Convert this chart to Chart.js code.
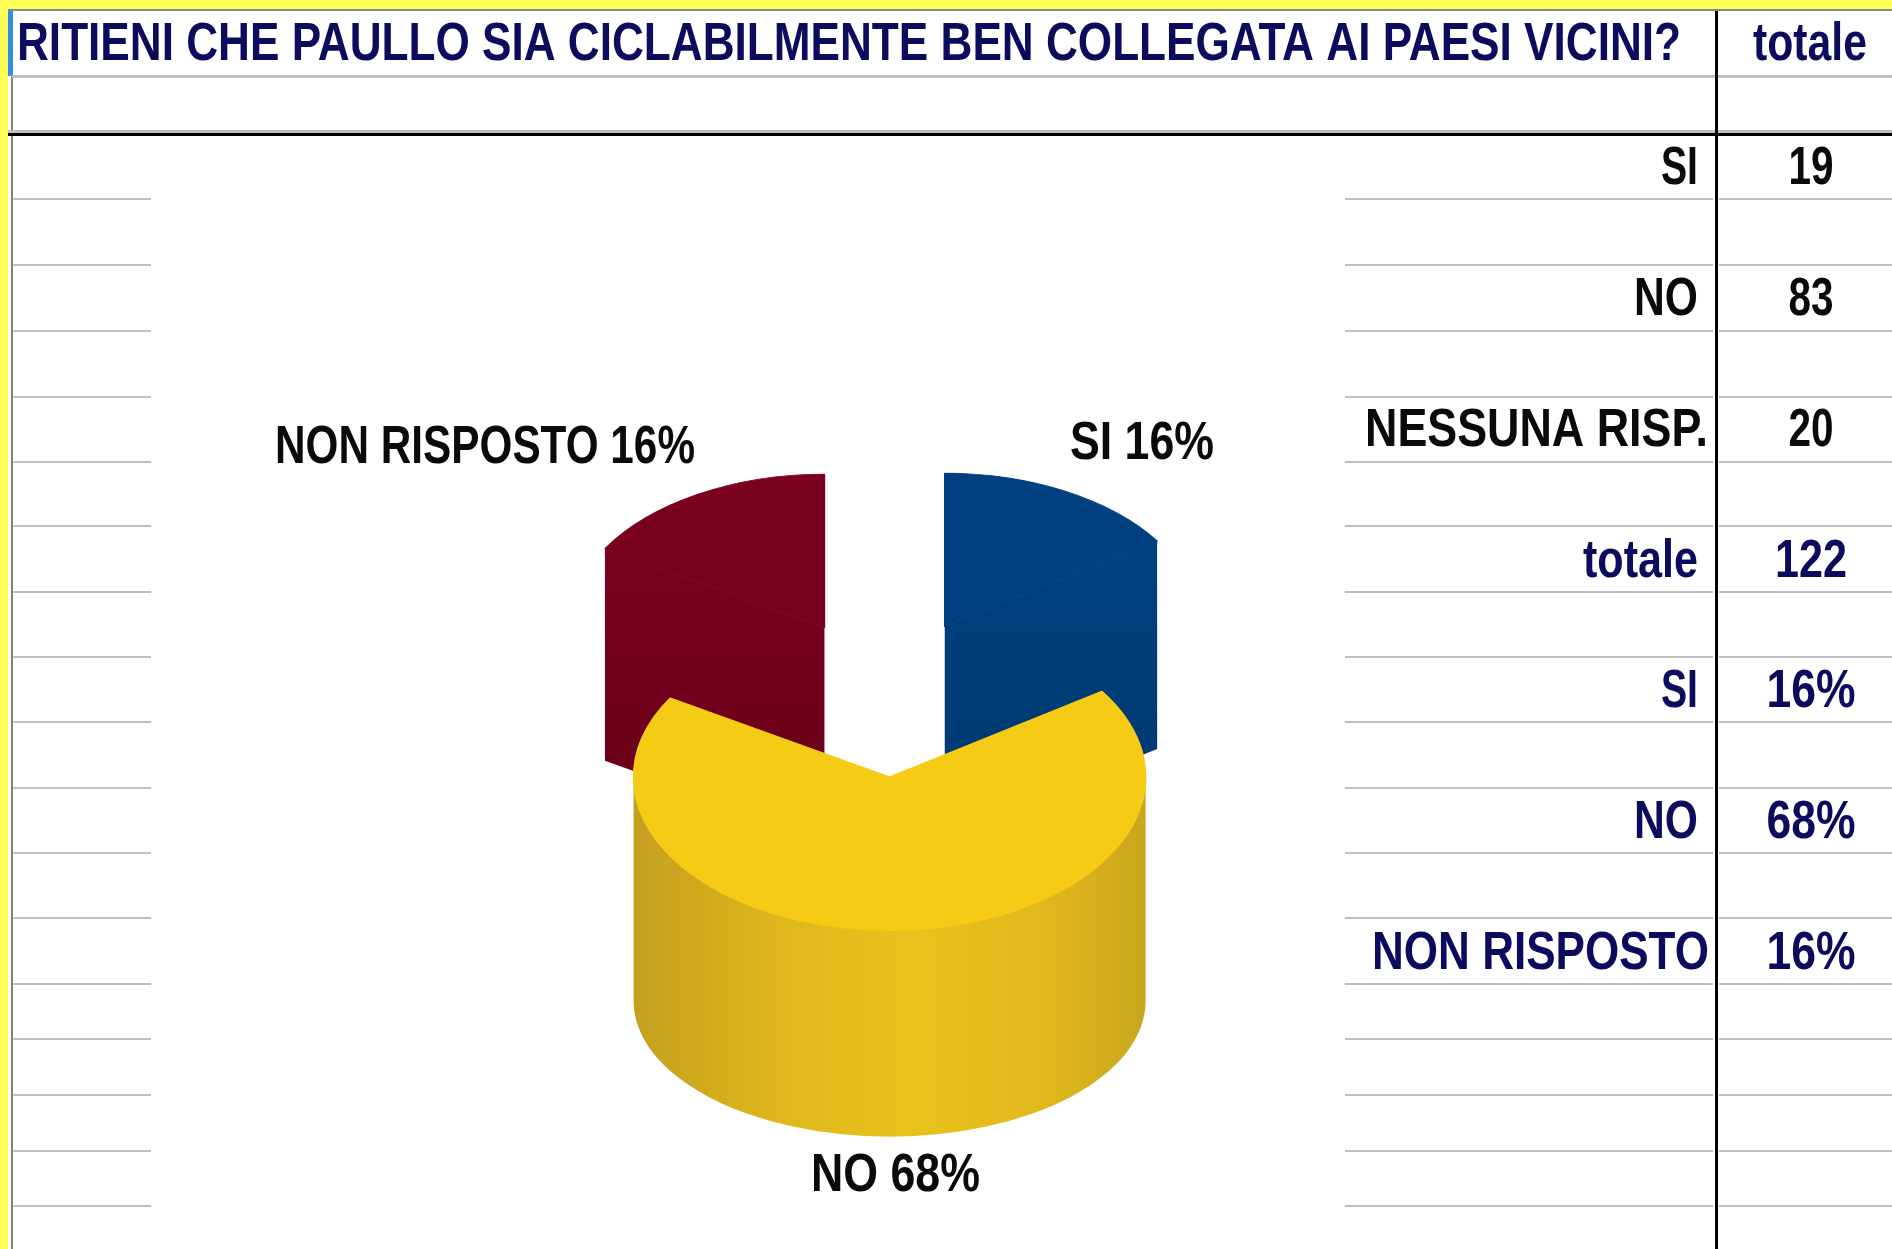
<!DOCTYPE html>
<html>
<head>
<meta charset="utf-8">
<title>Paullo</title>
<script src="https://cdn.jsdelivr.net/npm/chart.js@4/dist/chart.umd.min.js"></script>
<style>
    html, body { margin: 0; padding: 0; background: #fff; overflow: hidden; }
    canvas { display: block; }
</style>
</head>
<body>
<canvas id="myPieChart" width="1892" height="1249"></canvas>
<script>
// dati del grafico
const questionTitle = 'RITIENI CHE PAULLO SIA CICLABILMENTE BEN COLLEGATA AI PAESI VICINI?';
const totalHeader = 'totale';
const categories = ['SI', 'NO', 'NON RISPOSTO'];
const answers = [19, 83, 20];
const percentages = ['16%', '68%', '16%'];
const countLabels = ['SI', 'NO', 'NESSUNA RISP.', 'totale'];
const countValues = ['19', '83', '20', '122'];

const NAVY = '#0c0c5e';
const INK = '#0a0a0a';
const GRID = '#c0c0c0';
const FONT = 'bold 53px "Liberation Sans", Arial, sans-serif';
const sliceColors = ['#004080', '#f5cb16', '#7a0020'];

// righe grigie del foglio
const rowLines = [199, 265, 331, 397, 462, 526, 592, 657, 722, 788, 853, 918, 984, 1039, 1095, 1151, 1206];
// posizione e larghezza dei testi condensati: [x destra, larghezza]
const countLabelBox = [[1698, 37], [1698, 64], [1708, 343], [1698, 115]];
const countValueBox = [45, 45, 45, 72];
const percentLabelBox = [[1698, 37], [1698, 64], [1709, 337]];
const rowBaseline = [184, 315, 446, 577, 707, 838, 969];
const sliceLabelBox = [[1070, 459, 144], [811, 1191, 169], [275, 463, 420]];

function putText(ctx, text, x, y, width, color, align) {
    ctx.font = FONT;
    ctx.fillStyle = color;
    ctx.textAlign = align || 'left';
    ctx.textBaseline = 'alphabetic';
    ctx.fillText(text, x, y, width);
}

// sfondo tipo foglio excel
const sheetPlugin = {
    id: 'sheet',
    beforeDraw(chart) {
        const ctx = chart.ctx;
        const W = chart.width, H = chart.height;
        ctx.save();
        ctx.fillStyle = '#fff';
        ctx.fillRect(0, 0, W, H);
        // bordo giallo
        ctx.fillStyle = '#ffff58';
        ctx.fillRect(0, 0, W, 9);
        ctx.fillRect(0, 0, 8, H);
        ctx.fillStyle = '#8a8a80';
        ctx.fillRect(8, 9, W - 8, 2);
        ctx.fillStyle = '#808080';
        ctx.fillRect(11, 76, 2, H - 76);
        ctx.fillStyle = '#2f8fe0';
        ctx.fillRect(8, 11, 5, 65);

        ctx.fillStyle = GRID;
        ctx.fillRect(12, 75, W - 12, 3);
        ctx.fillRect(8, 130, W - 8, 3);
        ctx.fillStyle = '#000';
        ctx.fillRect(8, 133, W - 8, 3);
        ctx.fillStyle = GRID;
        rowLines.forEach(y => {
            ctx.fillRect(13, y - 1, 138, 2);
            ctx.fillRect(1345, y - 1, 368, 2);
            ctx.fillRect(1719, y - 1, W - 1719, 2);
        });
        ctx.fillStyle = '#000';
        ctx.fillRect(1715, 11, 3, H - 11);

        // intestazione e tabella
        putText(ctx, questionTitle, 17, 60, 1664, NAVY);
        putText(ctx, totalHeader, 1753, 60, 114, NAVY);
        countLabels.forEach((label, i) => {
            const color = i === 3 ? NAVY : INK;
            const box = countLabelBox[i];
            putText(ctx, label, box[0], rowBaseline[i], box[1], color, 'right');
            putText(ctx, countValues[i], 1811, rowBaseline[i], countValueBox[i], color, 'center');
        });
        categories.forEach((label, i) => {
            const box = percentLabelBox[i];
            putText(ctx, label, box[0], rowBaseline[i + 4], box[1], NAVY, 'right');
            putText(ctx, percentages[i], 1811, rowBaseline[i + 4], 89, NAVY, 'center');
        });
        ctx.restore();
    }
};

// torta 3D: schiaccia gli archi di Chart.js, li stacca dal centro e aggiunge le pareti
const pie3dPlugin = {
    id: 'pie3d',
    beforeDatasetsDraw(chart, args, opts) {
        const ctx = chart.ctx;
        const arcs = chart.getDatasetMeta(0).data;
        const items = arcs.map((el, i) => {
            const mid = (el.startAngle + el.endAngle) / 2;
            const off = opts.explode[i];
            return {
                el: el, i: i,
                x: el.x + Math.cos(mid) * off,
                y: el.y + Math.sin(mid) * off * opts.squash
            };
        });
        // prima le fette dietro
        items.sort((a, b) => a.y - b.y);

        items.forEach(it => {
            const el = it.el, R = el.outerRadius;
            const depth = opts.depth[it.i];
            const Ry = R * opts.squash, Rb = R * opts.bottomSquash[it.i];
            ctx.save();
            // le pareti sfumano dal colore della fetta verso il basso
            const shade = ctx.createLinearGradient(0, it.y - Ry * 0.4, 0, it.y + depth);
            shade.addColorStop(0, el.options.backgroundColor);
            shade.addColorStop(1, opts.wall[it.i]);
            ctx.fillStyle = shade;
            // facce di taglio
            [el.startAngle, el.endAngle].forEach(a => {
                const tx = it.x + Math.cos(a) * R;
                ctx.beginPath();
                ctx.moveTo(it.x, it.y);
                ctx.lineTo(tx, it.y + Math.sin(a) * Ry);
                ctx.lineTo(tx, it.y + depth + Math.sin(a) * Rb);
                ctx.lineTo(it.x, it.y + depth);
                ctx.closePath();
                ctx.fill();
            });
            // parete esterna visibile solo per la fetta davanti
            if (el.endAngle > Math.PI && el.startAngle < 0) {
                const g = ctx.createLinearGradient(it.x - R, 0, it.x + R, 0);
                opts.frontStops.forEach(s => g.addColorStop(s[0], s[1]));
                ctx.fillStyle = g;
                ctx.beginPath();
                ctx.ellipse(it.x, it.y, R, Ry, 0, 0, Math.PI, false);
                ctx.ellipse(it.x, it.y + depth, R, Rb, 0, Math.PI, 0, true);
                ctx.closePath();
                ctx.fill();
            }
            // faccia superiore disegnata dall'arco stesso
            ctx.translate(it.x, it.y);
            ctx.scale(1, opts.squash);
            ctx.translate(-el.x, -el.y);
            el.draw(ctx);
            ctx.restore();
        });

        // etichette delle fette
        categories.forEach((label, i) => {
            const box = sliceLabelBox[i];
            putText(ctx, label + ' ' + percentages[i], box[0], box[1], box[2], INK);
        });
        return false;
    }
};

new Chart(document.getElementById('myPieChart'), {
    type: 'pie',
    data: {
        labels: categories,
        datasets: [{
            data: answers,
            backgroundColor: sliceColors,
            borderColor: sliceColors,
            borderWidth: 1.5,
            radius: 256
        }]
    },
    options: {
        responsive: false,
        animation: false,
        layout: { padding: { top: 137, right: 120 } },
        plugins: {
            legend: { display: false },
            tooltip: { enabled: false },
            pie3d: {
                squash: 0.6,
                explode: [125, 140, 125],
                bottomSquash: [0.6, 0.53, 0.6],
                depth: [208, 224, 212],
                wall: ['#00386e', '#d8b01c', '#660016'],
                frontStops: [
                    [0, '#c4a020'], [0.12, '#cfa91c'], [0.3, '#dfb81c'],
                    [0.55, '#e8c21c'], [0.8, '#e0b81c'], [0.93, '#d3ac1e'], [1, '#c8a61e']
                ]
            }
        }
    },
    plugins: [sheetPlugin, pie3dPlugin]
});
</script>
</body>
</html>
